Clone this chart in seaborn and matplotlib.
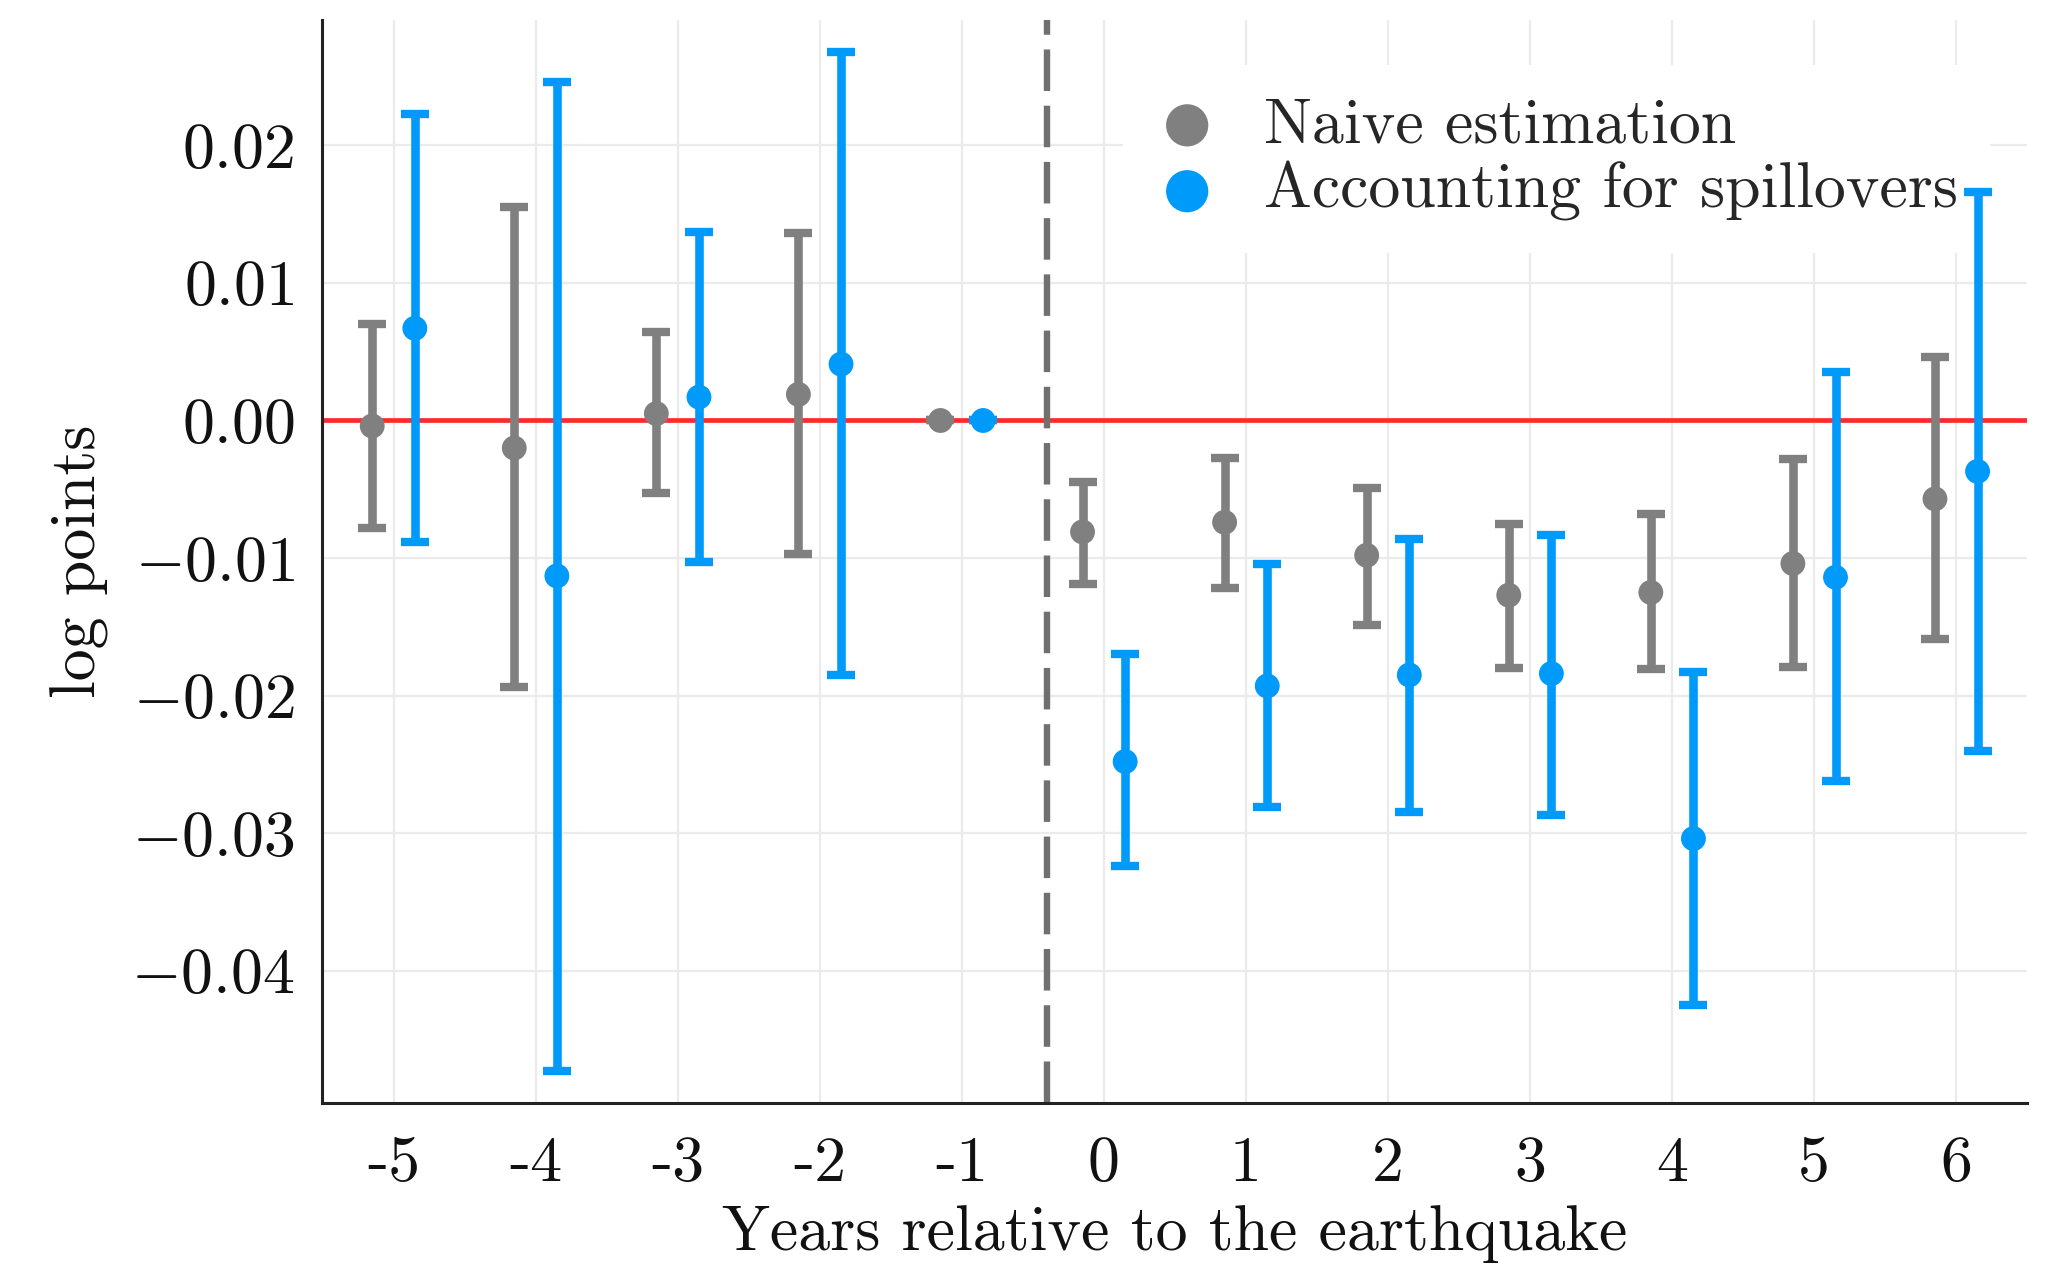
import matplotlib
matplotlib.use("Agg")
import matplotlib.pyplot as plt
import numpy as np
import seaborn as sns

# Event-study estimates
years = [-5, -4, -3, -2, -1, 0, 1, 2, 3, 4, 5, 6]
year_labels = ["-5", "-4", "-3", "-2", "-1", "0", "1", "2", "3", "4", "5", "6"]

naive_est = [-0.0004, -0.0020, 0.0005, 0.0019, 0.0, -0.0081, -0.0074, -0.0098, -0.0127, -0.0125, -0.0104, -0.0057]
naive_lo = [-0.0078, -0.0194, -0.0053, -0.0097, 0.0, -0.0119, -0.0122, -0.0149, -0.0180, -0.0181, -0.0179, -0.0159]
naive_hi = [0.0070, 0.0155, 0.0064, 0.0136, 0.0, -0.0045, -0.0027, -0.0049, -0.0075, -0.0068, -0.0028, 0.0046]

spill_est = [0.0067, -0.0113, 0.0017, 0.0041, 0.0, -0.0248, -0.0193, -0.0185, -0.0184, -0.0304, -0.0114, -0.0037]
spill_lo = [-0.0088, -0.0473, -0.0103, -0.0185, 0.0, -0.0324, -0.0281, -0.0285, -0.0287, -0.0425, -0.0262, -0.0240]
spill_hi = [0.0223, 0.0246, 0.0137, 0.0268, 0.0, -0.0170, -0.0104, -0.0086, -0.0083, -0.0183, 0.0035, 0.0166]

yticks = [0.02, 0.01, 0.00, -0.01, -0.02, -0.03, -0.04]

gray = "#808080"
blue = "#009AFA"

sns.set_theme(style="whitegrid")
plt.rcParams["font.family"] = ["cmr10", "DejaVu Serif"]
plt.rcParams["mathtext.fontset"] = "cm"
plt.rcParams["axes.unicode_minus"] = False
plt.rcParams["axes.formatter.use_mathtext"] = True

fig, ax = plt.subplots(figsize=(10.27, 6.33), dpi=200)
fig.subplots_adjust(left=0.157, right=0.987, top=0.984, bottom=0.129)

x = np.array(years, dtype=float)
series = [
    ("Naive estimation", x - 0.15, naive_est, naive_lo, naive_hi, gray),
    ("Accounting for spillovers", x + 0.15, spill_est, spill_lo, spill_hi, blue),
]

# reference lines
ax.axhline(0, color="#FF2A2A", lw=1.7, zorder=2)
ax.axvline(-0.4, color="#707070", lw=2.3, dashes=(6.5, 2.3), zorder=2)

for label, xs, est, lo, hi, col in series:
    est = np.array(est)
    yerr = [est - np.array(lo), np.array(hi) - est]
    ax.errorbar(xs, est, yerr=yerr, fmt="none", ecolor=col,
                elinewidth=3.1, capsize=4.9, capthick=3.0, zorder=3)
    sns.scatterplot(x=xs, y=est, color=col, s=80, edgecolor="none",
                    label=label, ax=ax, zorder=4)

ax.set_xlim(-5.5, 6.5)
ax.set_ylim(-0.0496, 0.0291)
ax.set_xticks(years)
ax.set_xticklabels(year_labels)
ax.set_yticks(yticks)
ax.set_yticklabels([f"${v:.2f}$" for v in yticks])

ax.grid(True, color="#EBEBEB", lw=0.8)
ax.set_axisbelow(True)
for side in ["top", "right"]:
    ax.spines[side].set_visible(False)
for side in ["left", "bottom"]:
    ax.spines[side].set_color("#222222")
    ax.spines[side].set_linewidth(1.1)

ax.tick_params(axis="both", direction="in", length=6, width=0.8, color="#222222",
               labelsize=23, labelcolor="#111111")
ax.tick_params(axis="y", pad=10)
ax.tick_params(axis="x", pad=12)

ax.set_xlabel("Years relative to the earthquake", fontsize=23, color="#111111")
ax.set_ylabel("log points", fontsize=23, color="#111111")
ax.xaxis.set_label_coords(0.5, -0.095)
ax.yaxis.set_label_coords(-0.125, 0.5)

leg = ax.legend(loc="upper left", bbox_to_anchor=(0.451, 0.988), fontsize=23,
                frameon=True, facecolor="white", edgecolor="none", framealpha=1,
                fancybox=False, handlelength=1.0, handletextpad=0.7,
                labelspacing=0.1, borderpad=0.5, markerscale=1.7)
leg.set_zorder(2.5)

fig.savefig("out.png", dpi=200)
